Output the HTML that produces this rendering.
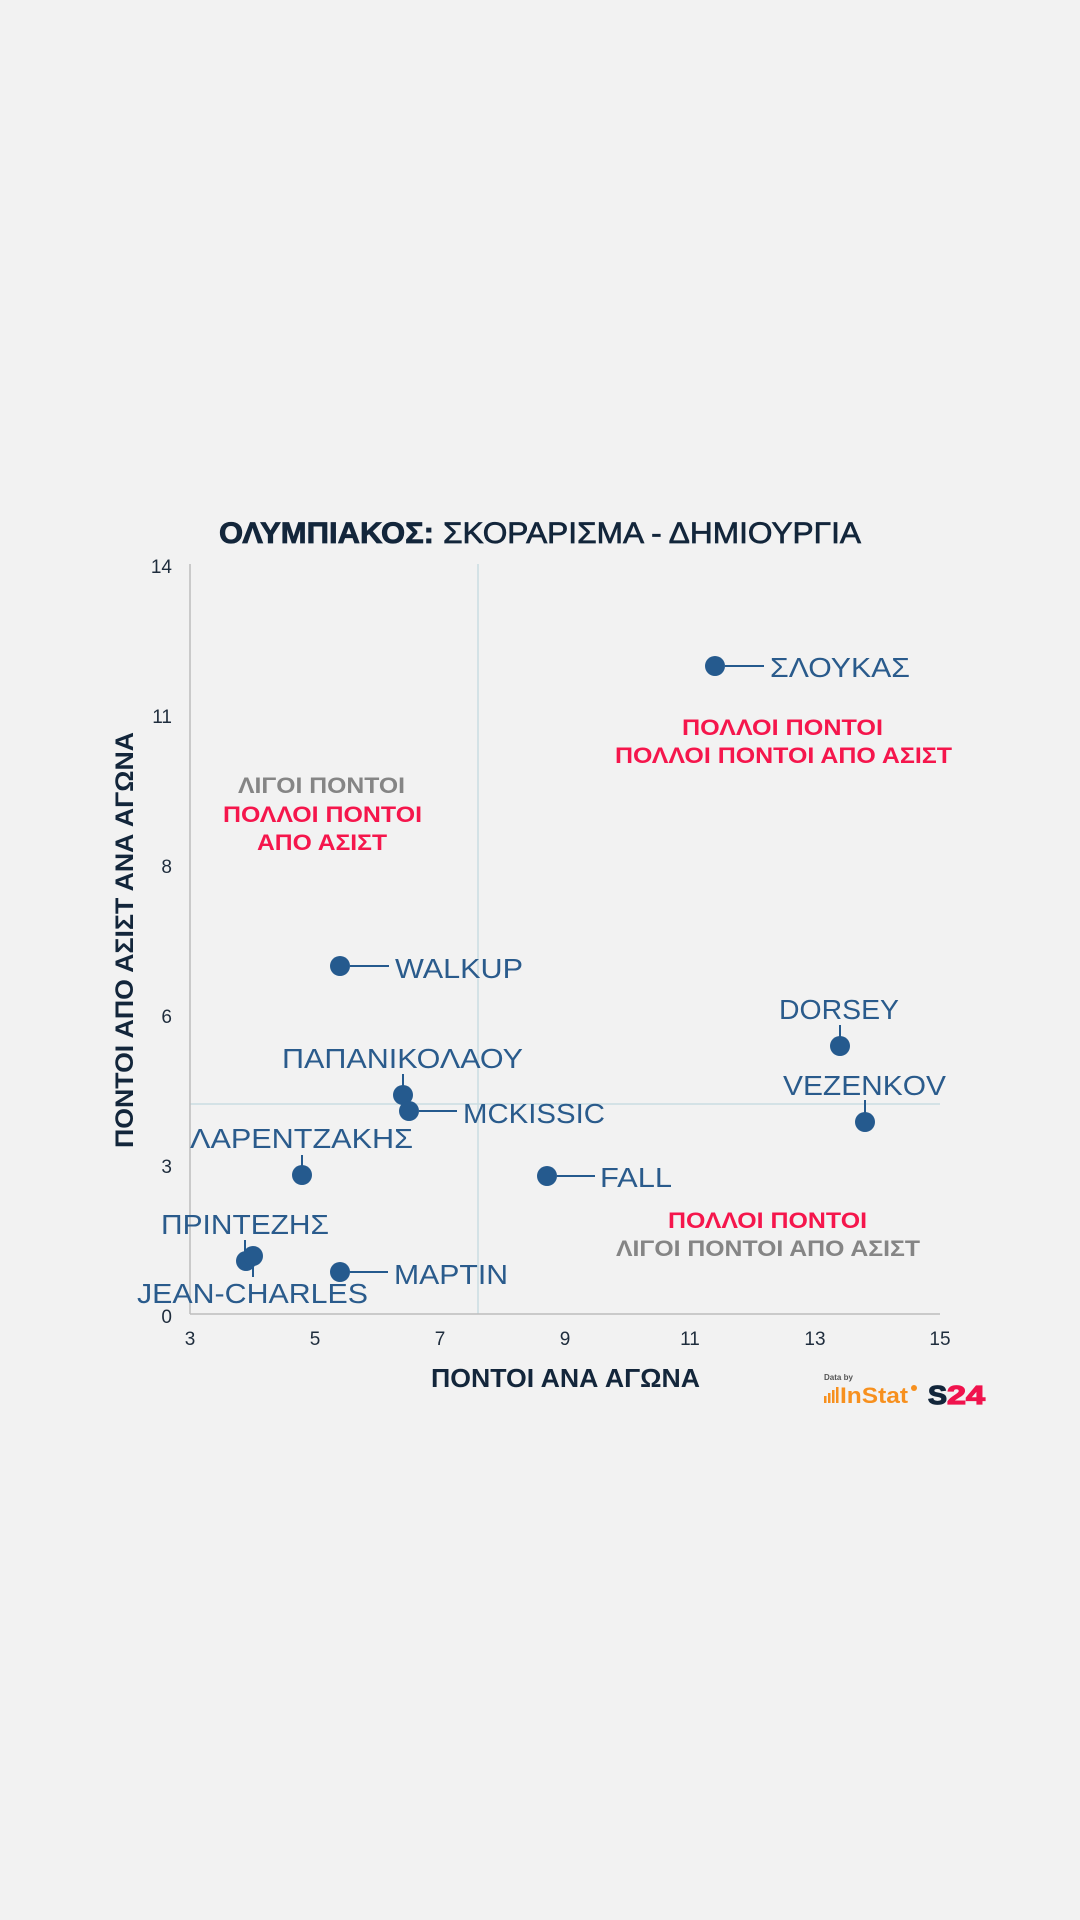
<!DOCTYPE html>
<html><head><meta charset="utf-8"><style>
html,body{margin:0;padding:0;background:#f2f2f2;}
svg{display:block;}
text{font-family:"Liberation Sans","DejaVu Sans",sans-serif;}
</style></head><body>
<svg width="1080" height="1920" viewBox="0 0 1080 1920" xmlns="http://www.w3.org/2000/svg">
<rect width="1080" height="1920" fill="#f2f2f2"/>

<!-- Title -->
<text x="219" y="543" font-size="30" font-weight="bold" fill="#13263b" stroke="#13263b" stroke-width="0.8" textLength="215" lengthAdjust="spacingAndGlyphs">ΟΛΥΜΠΙΑΚΟΣ:</text>
<text x="443" y="543" font-size="30" fill="#13263b" stroke="#13263b" stroke-width="0.7" textLength="418" lengthAdjust="spacingAndGlyphs">ΣΚΟΡΑΡΙΣΜΑ - ΔΗΜΙΟΥΡΓΙΑ</text>

<!-- quadrant lines -->
<line x1="478" y1="564" x2="478" y2="1314" stroke="#c9dde1" stroke-width="1.5"/>
<line x1="190" y1="1104" x2="940" y2="1104" stroke="#c9dde1" stroke-width="1.5"/>

<!-- axes -->
<line x1="190" y1="564" x2="190" y2="1314" stroke="#bdbdbd" stroke-width="1.5"/>
<line x1="190" y1="1314" x2="940" y2="1314" stroke="#bdbdbd" stroke-width="1.5"/>

<!-- y ticks -->
<g font-size="19" fill="#1f2d3d" text-anchor="end">
<text x="172" y="573">14</text>
<text x="172" y="723">11</text>
<text x="172" y="873">8</text>
<text x="172" y="1023">6</text>
<text x="172" y="1173">3</text>
<text x="172" y="1323">0</text>
</g>
<!-- x ticks -->
<g font-size="19" fill="#1f2d3d" text-anchor="middle">
<text x="190" y="1345">3</text>
<text x="315" y="1345">5</text>
<text x="440" y="1345">7</text>
<text x="565" y="1345">9</text>
<text x="690" y="1345">11</text>
<text x="815" y="1345">13</text>
<text x="940" y="1345">15</text>
</g>

<!-- axis titles -->
<text x="431" y="1387" font-size="26" font-weight="bold" fill="#13263b" textLength="269" lengthAdjust="spacingAndGlyphs">ΠΟΝΤΟΙ ΑΝΑ ΑΓΩΝΑ</text>
<text transform="translate(133,940) rotate(-90)" x="0" y="0" text-anchor="middle" font-size="25" font-weight="bold" fill="#13263b" textLength="416" lengthAdjust="spacingAndGlyphs">ΠΟΝΤΟΙ ΑΠΟ ΑΣΙΣΤ ΑΝΑ ΑΓΩΝΑ</text>

<!-- quadrant texts -->
<g font-size="22" font-weight="bold">
<text x="238" y="793" fill="#858585" textLength="167" lengthAdjust="spacingAndGlyphs">ΛΙΓΟΙ ΠΟΝΤΟΙ</text>
<text x="223" y="822" fill="#f5164c" textLength="199" lengthAdjust="spacingAndGlyphs">ΠΟΛΛΟΙ ΠΟΝΤΟΙ</text>
<text x="257" y="850" fill="#f5164c" textLength="130" lengthAdjust="spacingAndGlyphs">ΑΠΟ ΑΣΙΣΤ</text>

<text x="682" y="735" fill="#f5164c" textLength="201" lengthAdjust="spacingAndGlyphs">ΠΟΛΛΟΙ ΠΟΝΤΟΙ</text>
<text x="615" y="763" fill="#f5164c" textLength="337" lengthAdjust="spacingAndGlyphs">ΠΟΛΛΟΙ ΠΟΝΤΟΙ ΑΠΟ ΑΣΙΣΤ</text>

<text x="668" y="1228" fill="#f5164c" textLength="199" lengthAdjust="spacingAndGlyphs">ΠΟΛΛΟΙ ΠΟΝΤΟΙ</text>
<text x="616" y="1256" fill="#858585" textLength="304" lengthAdjust="spacingAndGlyphs">ΛΙΓΟΙ ΠΟΝΤΟΙ ΑΠΟ ΑΣΙΣΤ</text>
</g>

<!-- connectors -->
<g stroke="#255a8e" stroke-width="2">
<line x1="725" y1="666" x2="764" y2="666"/>
<line x1="350" y1="966" x2="389" y2="966"/>
<line x1="403" y1="1074" x2="403" y2="1087"/>
<line x1="419" y1="1111" x2="457" y2="1111"/>
<line x1="302" y1="1155" x2="302" y2="1167"/>
<line x1="557" y1="1176" x2="595" y2="1176"/>
<line x1="840" y1="1025" x2="840" y2="1038"/>
<line x1="865" y1="1100" x2="865" y2="1114"/>
<line x1="245" y1="1240" x2="245" y2="1252"/>
<line x1="253" y1="1264" x2="253" y2="1277"/>
<line x1="350" y1="1272" x2="388" y2="1272"/>
</g>

<!-- dots -->
<g fill="#255a8e">
<circle cx="715" cy="666" r="10"/>
<circle cx="340" cy="966" r="10"/>
<circle cx="403" cy="1095" r="10"/>
<circle cx="409" cy="1111" r="10"/>
<circle cx="302" cy="1175" r="10"/>
<circle cx="547" cy="1176" r="10"/>
<circle cx="840" cy="1046" r="10"/>
<circle cx="865" cy="1122" r="10"/>
<circle cx="246" cy="1261" r="10"/>
<circle cx="253" cy="1256" r="10"/>
<circle cx="340" cy="1272" r="10"/>
</g>

<!-- labels -->
<g font-size="28" fill="#2a5b8c">
<text x="770" y="677" textLength="140" lengthAdjust="spacingAndGlyphs">ΣΛΟΥΚΑΣ</text>
<text x="395" y="978" textLength="128" lengthAdjust="spacingAndGlyphs">WALKUP</text>
<text x="282" y="1068" textLength="241" lengthAdjust="spacingAndGlyphs">ΠΑΠΑΝΙΚΟΛΑΟΥ</text>
<text x="463" y="1123" textLength="142" lengthAdjust="spacingAndGlyphs">MCKISSIC</text>
<text x="190" y="1148" textLength="223" lengthAdjust="spacingAndGlyphs">ΛΑΡΕΝΤΖΑΚΗΣ</text>
<text x="600" y="1187" textLength="72" lengthAdjust="spacingAndGlyphs">FALL</text>
<text x="779" y="1019" textLength="120" lengthAdjust="spacingAndGlyphs">DORSEY</text>
<text x="783" y="1095" textLength="163" lengthAdjust="spacingAndGlyphs">VEZENKOV</text>
<text x="161" y="1234" textLength="168" lengthAdjust="spacingAndGlyphs">ΠΡΙΝΤΕΖΗΣ</text>
<text x="137" y="1303" textLength="231" lengthAdjust="spacingAndGlyphs">JEAN-CHARLES</text>
<text x="394" y="1284" textLength="114" lengthAdjust="spacingAndGlyphs">ΜΑΡΤΙΝ</text>
</g>

<!-- logo -->
<text x="824" y="1380" font-size="8" font-weight="bold" fill="#555">Data by</text>
<g fill="#f7901e">
<rect x="824" y="1396" width="2.5" height="7"/>
<rect x="828" y="1393" width="2.5" height="10"/>
<rect x="832" y="1390" width="2.5" height="13"/>
<rect x="836" y="1387" width="2.5" height="16"/>
<circle cx="914" cy="1388" r="3"/>
</g>
<text x="840" y="1403" font-size="22" font-weight="bold" fill="#f7901e" textLength="68" lengthAdjust="spacingAndGlyphs">InStat</text>
<text x="928" y="1404" font-size="26" font-weight="bold" fill="#13263b" stroke="#13263b" stroke-width="1.2" textLength="19" lengthAdjust="spacingAndGlyphs">S</text>
<text x="947" y="1404" font-size="26" font-weight="bold" fill="#f0134d" stroke="#f0134d" stroke-width="1.2" textLength="38" lengthAdjust="spacingAndGlyphs">24</text>
</svg>
</body></html>
